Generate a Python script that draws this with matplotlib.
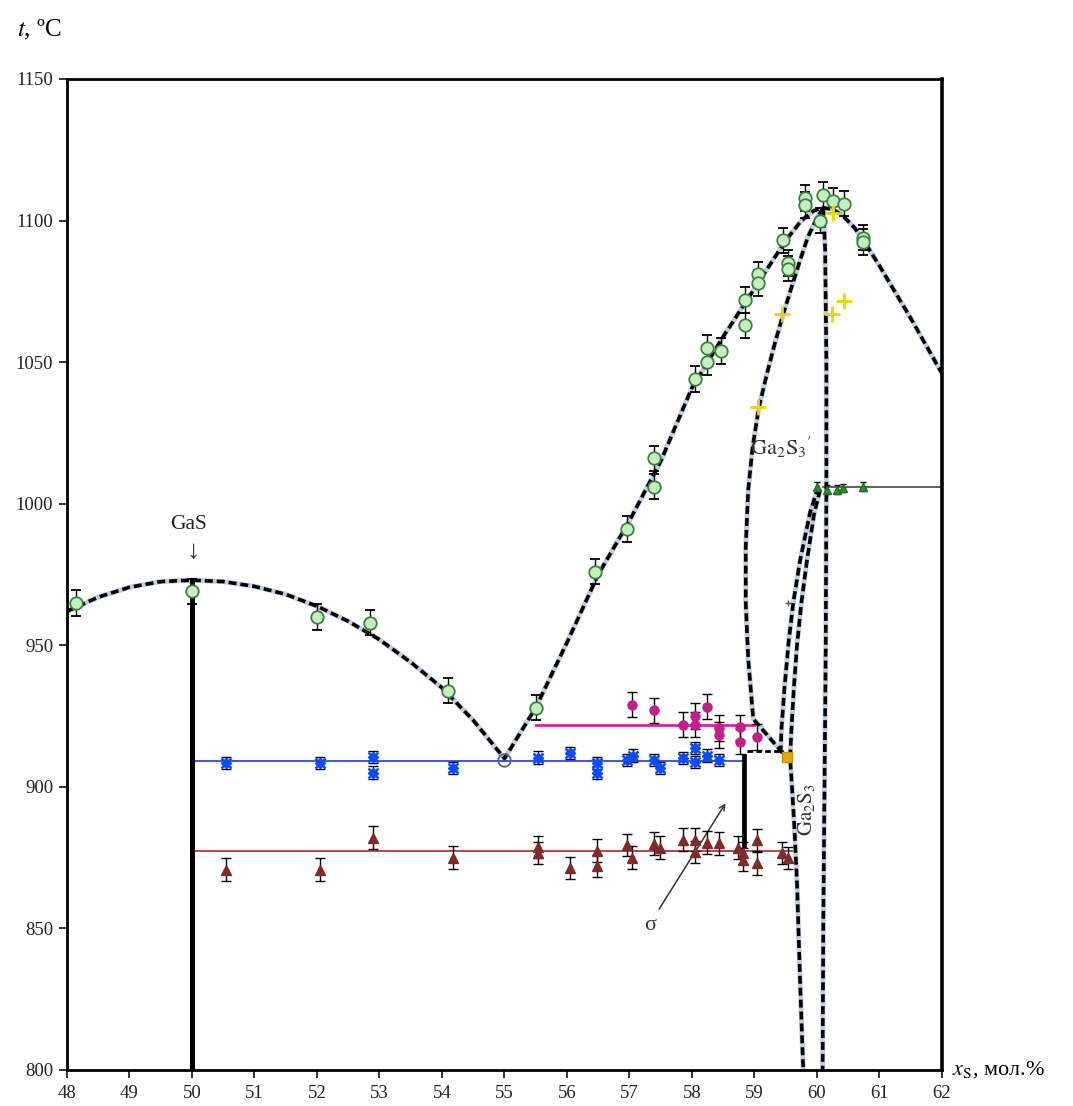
import matplotlib
matplotlib.use("Agg")
import matplotlib.pyplot as plt

plt.rcParams['font.family'] = ['Liberation Serif', 'DejaVu Serif']
plt.rcParams['mathtext.fontset'] = 'stix'

# ---------------- data ----------------
# liquidus (dashed)
liq_x = [48.0, 48.5, 49.0, 49.5, 50.0, 50.5, 51.0, 51.5, 52.0, 52.5, 53.0, 53.5, 54.0, 54.5, 55.0,
         55.5, 56.0, 56.5, 57.0, 57.5, 58.0, 58.5, 59.0, 59.5, 59.75, 59.95, 60.1, 60.25, 60.4, 60.6,
         60.8, 61.0, 61.5, 62.0]
liq_y = [962, 967, 970.5, 972.5, 973, 972.5, 970.8, 968, 963.8, 958.5, 952, 944, 935, 923.5, 910,
         928, 951, 975, 994, 1015, 1041, 1059, 1076, 1093, 1100, 1103.5, 1104.5, 1104, 1102, 1097.5,
         1091, 1084, 1065.5, 1046]
# Ga2S3' left boundary
bndD_x = [60.1, 60.0, 59.85, 59.73, 59.6, 59.46, 59.33, 59.2, 59.07, 58.97, 58.9, 58.86, 58.86, 58.9, 58.98, 59.45]
bndD_y = [1104.5, 1101, 1094, 1086, 1077, 1067, 1057, 1046, 1034, 1020, 1005, 985, 965, 945, 924, 912]
# near-vertical right boundary
bndC_x = [60.1, 60.13, 60.15, 60.15, 60.14, 60.12, 60.1, 60.09]
bndC_y = [1104.5, 1090, 1050, 1006, 950, 900, 850, 800]
# inner curve from 1006 down to eutectoid
bndA_x = [60.02, 59.89, 59.73, 59.62, 59.55, 59.48, 59.43, 59.42]
bndA_y = [1006, 997, 980, 965, 952, 935, 920, 913]
# Ga2S3 left boundary
bndB_x = [60.05, 59.95, 59.84, 59.75, 59.68, 59.63, 59.59, 59.57, 59.6, 59.64, 59.68, 59.73, 59.76, 59.78]
bndB_y = [1005, 996, 980, 965, 950, 935, 920, 910, 900, 885, 866, 831, 812, 800]
# eutectoid horizontal
eut_x = [58.88, 59.45]
eut_y = [912.5, 912.5]

# liquidus data (green open circles)
gx = [48.15, 50.0, 52.0, 52.85, 54.1, 55.5, 56.45, 56.96, 57.4, 57.4, 58.05, 58.24, 58.24, 58.46,
      58.85, 58.85, 59.06, 59.06, 59.46, 59.54, 59.54, 59.81, 59.81, 60.1, 60.05, 60.26, 60.43, 60.74, 60.74]
gy = [965, 969, 960, 958, 934, 928, 976, 991, 1006, 1016, 1044, 1055, 1050, 1054,
      1072, 1063, 1081, 1078, 1093, 1085, 1083, 1108, 1105.5, 1109, 1100, 1107, 1106, 1094, 1092.5]
eut_pt = (55.0, 909.5)

# blue (eutectic 909)
bx = [50.55, 52.05, 52.9, 52.9, 54.18, 55.54, 56.05, 56.48, 56.48, 56.96, 57.06, 57.39, 57.49,
      57.85, 58.05, 58.05, 58.24, 58.43]
by = [908.4, 908.5, 910.6, 905, 906.7, 910.3, 912, 908.5, 905, 909.5, 911, 909.5, 906.7,
      910.2, 913.8, 908.8, 911, 909.5]
blue_line_x = [50.0, 58.83]
blue_line_y = 909.3

# magenta (922)
mx = [57.04, 57.39, 57.86, 58.05, 58.05, 58.24, 58.43, 58.43, 58.77, 58.77, 59.04]
my = [929, 927, 922, 925, 922, 928.3, 920.8, 918.4, 921, 916, 917.6]
mag_line_x = [55.5, 59.0]
mag_line_y = 922

# red triangles (877.5)
rx = [50.55, 52.05, 52.9, 54.18, 55.54, 55.54, 56.05, 56.48, 56.48, 56.96, 57.04, 57.39, 57.49,
      57.86, 58.05, 58.05, 58.24, 58.43, 58.74, 58.82, 58.82, 59.04, 59.04, 59.44, 59.54]
ry = [870.7, 870.7, 882, 875, 878.8, 876.6, 871.4, 877.5, 872, 879.5, 875, 879.9, 878.5,
      881.3, 881.3, 877, 880.3, 880, 878.5, 876.7, 874.3, 881.2, 873, 876.7, 874.9]
red_line_x = [50.0, 59.6]
red_line_y = 877.5

# green triangles (1006)
tx = [60.0, 60.16, 60.32, 60.42, 60.74]
ty = [1006, 1005, 1005, 1005.6, 1006]
tri_line_x = [60.1, 62.0]
tri_line_y = 1006

# yellow crosses
yx = [59.06, 59.44, 60.24, 60.43, 60.26]
yy = [1034, 1067, 1067, 1071.6, 1102.6]
orange_pt = (59.52, 910.6)

# compound lines
gas_x = 50.0
gas_top = 973
sigma_x = 58.83
sigma_y = [879, 911]

# ---------------- figure ----------------
fig = plt.figure(figsize=(10.73, 11.06), dpi=100)
ax = fig.add_axes([67/1073, 1-1070/1106, 875/1073, 991/1106])
ax.set_xlim(48, 62)
ax.set_ylim(800, 1150)
ax.set_xticks(range(48, 63))
ax.set_yticks(range(800, 1151, 50))
ax.tick_params(direction='out', length=6, width=1.3, labelsize=13.5, colors='#222222')
ax.tick_params(axis='x', pad=5)
ax.tick_params(axis='y', pad=4)
for s in ax.spines.values():
    s.set_linewidth(2.0)
ax.spines['right'].set_linewidth(2.6)

def dashed(x, y):
    ax.plot(x, y, color='#c3cde0', lw=3.6, solid_capstyle='butt', zorder=2)
    ax.plot(x, y, color='black', lw=2.6, ls=(0, (2.2, 1.1)), zorder=3)

dashed(liq_x, liq_y)
dashed(bndD_x, bndD_y)
dashed(bndC_x, bndC_y)
dashed(bndA_x, bndA_y)
dashed(bndB_x, bndB_y)
ax.plot(eut_x, eut_y, color='black', lw=2.0, ls=(0, (2, 1.2)), zorder=3)

# solid horizontal lines
ax.plot(blue_line_x, [blue_line_y]*2, color='#3344ee', lw=1.3, zorder=2)
ax.plot(mag_line_x, [mag_line_y]*2, color='#e0209a', lw=2.0, zorder=2)
ax.plot(red_line_x, [red_line_y]*2, color='#a83a3a', lw=1.3, zorder=2)
ax.plot(tri_line_x, [tri_line_y]*2, color='#444444', lw=1.2, zorder=2)

# compound vertical lines
ax.plot([gas_x, gas_x], [800, gas_top], color='black', lw=3.6, zorder=4)
ax.plot([sigma_x, sigma_x], sigma_y, color='black', lw=3.4, zorder=4)

ekw = dict(ecolor='black', elinewidth=1.0, capsize=3.5, capthick=1.0, ls='none')
ax.errorbar(gx, gy, yerr=4.5, marker='o', ms=9, mfc='#c4efc0', mec='#3f7f3f', mew=1.3, zorder=5, **ekw)
ax.plot([eut_pt[0]], [eut_pt[1]], marker='o', ms=9, mfc='none', mec='#556677', mew=1.3, zorder=5)
ax.errorbar(bx, by, yerr=2.2, marker='D', ms=5.5, mfc='#0a4cff', mec='#0a4cff', zorder=5, **ekw)
ax.plot(bx, by, 'x', color='#0a4cff', ms=7, mew=1.8, zorder=5)
ax.errorbar(mx, my, yerr=4.5, marker='o', ms=6.5, mfc='#c0208a', mec='#c0208a', zorder=5, **ekw)
ax.errorbar(rx, ry, yerr=4, marker='^', ms=7.5, mfc='#7e2b2b', mec='#7e2b2b', zorder=5, **ekw)
ax.errorbar(tx, ty, yerr=1.5, marker='^', ms=6, mfc='#2e8b2e', mec='#1f6f1f', zorder=5,
            ecolor='black', elinewidth=1.0, capsize=2.5, capthick=1.0, ls='none')
ax.plot(yx, yy, '+', color='#e8d400', ms=11, mew=2.0, zorder=6)
ax.plot([orange_pt[0]], [orange_pt[1]], marker='s', ms=7, mfc='#e0aa10', mec='#c89000', zorder=6)
ax.plot([59.54], [965], marker='+', color='#555555', ms=5, mew=1, zorder=6)

# annotations
ax.text(49.94, 992.5, 'GaS', ha='center', va='center', fontsize=15.5, color='#222222')
ax.text(50.02, 983, '\u2193', ha='center', va='center', fontsize=19, color='#333333')
ax.text(58.93, 1020, r"$\mathrm{Ga_2S_3}'$", ha='left', va='center', fontsize=16, color='#333333')
ax.text(59.83, 892, r"$\mathrm{Ga_2S_3}$", ha='center', va='center', fontsize=15, rotation=90, color='#333333')
ax.annotate('', xy=(58.56, 895), xytext=(57.45, 856),
            arrowprops=dict(arrowstyle='->', color='#333333', lw=1.1))
ax.text(57.33, 851, '\u03c3', ha='center', va='center', fontsize=16, color='#333333')

fig.text(17/1073, 1-30/1106, r"$t$, ºC", ha='left', va='center', fontsize=18)
ax.text(1.012, 0.0, r"$x_{\mathrm{S}}$, мол.%", transform=ax.transAxes, ha='left', va='center', fontsize=16)

fig.savefig('out.png', dpi=100)
